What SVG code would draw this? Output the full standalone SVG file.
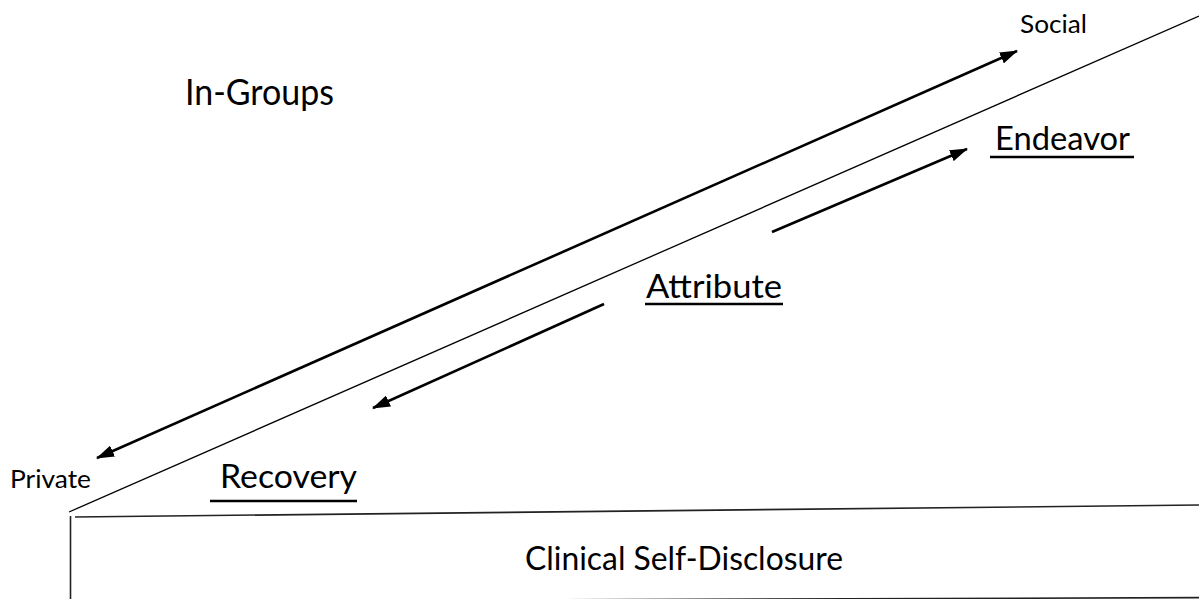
<svg xmlns="http://www.w3.org/2000/svg" width="1199" height="599" viewBox="0 0 1199 599">
  <style>
    .lbl { font-family: Lato, "Noto Sans", "Liberation Sans", sans-serif; fill: #000; }
    .big { font-size: 36px; }
    .mid { font-size: 32px; }
    .sml { font-size: 25px; }
    .thin { stroke: #000; stroke-width: 1.3; fill: none; }
    .edge { stroke: #222; stroke-width: 1.6; fill: none; }
    .arrow { stroke: #000; stroke-width: 2.6; fill: none; }
    .uline { stroke: #000; stroke-width: 2.6; }
  </style>
  <defs>
    <marker id="head" viewBox="0 0 18 12" refX="17" refY="6" markerWidth="18" markerHeight="12" markerUnits="userSpaceOnUse" orient="auto-start-reverse">
      <path d="M0,0 L18,6 L0,12 Z" fill="#000"/>
    </marker>
  </defs>

  <!-- slope and base box -->
  <g id="slope">
    <line class="thin" x1="69" y1="512" x2="1199" y2="16"/>
  </g>
  <g id="clinical">
    <line class="edge" x1="70.5" y1="516" x2="70.5" y2="599"/>
    <line class="edge" x1="75" y1="517" x2="1199" y2="505"/>
    <line class="edge" x1="70" y1="601.5" x2="1199" y2="597.6"/>
    <text class="lbl mid" x="525" y="570" textLength="318" lengthAdjust="spacingAndGlyphs">Clinical Self-Disclosure</text>
  </g>

  <!-- labels -->
  <g id="in-groups">
    <text class="lbl big" x="185" y="105" textLength="149" lengthAdjust="spacingAndGlyphs">In-Groups</text>
  </g>
  <g id="social">
    <text class="lbl sml" x="1020" y="33" textLength="67" lengthAdjust="spacingAndGlyphs">Social</text>
  </g>
  <g id="private">
    <text class="lbl sml" x="10" y="488" textLength="81" lengthAdjust="spacingAndGlyphs">Private</text>
  </g>
  <g id="endeavor">
    <text class="lbl mid" x="995" y="150" textLength="135" lengthAdjust="spacingAndGlyphs">Endeavor</text>
    <line class="uline" x1="990" y1="157" x2="1134" y2="157"/>
  </g>
  <g id="attribute">
    <text class="lbl mid" x="646" y="298" textLength="136" lengthAdjust="spacingAndGlyphs">Attribute</text>
    <line class="uline" x1="645" y1="304" x2="783" y2="304"/>
  </g>
  <g id="recovery">
    <text class="lbl mid" x="220" y="488" textLength="137" lengthAdjust="spacingAndGlyphs">Recovery</text>
    <line class="uline" x1="210" y1="501" x2="357" y2="501"/>
  </g>

  <!-- connectors -->
  <g id="connectors">
    <line class="arrow" x1="97" y1="458" x2="1017" y2="51" marker-start="url(#head)" marker-end="url(#head)"/>
    <line class="arrow" x1="772" y1="232" x2="967" y2="149" marker-end="url(#head)"/>
    <line class="arrow" x1="604" y1="304" x2="373" y2="408" marker-end="url(#head)"/>
  </g>
</svg>
